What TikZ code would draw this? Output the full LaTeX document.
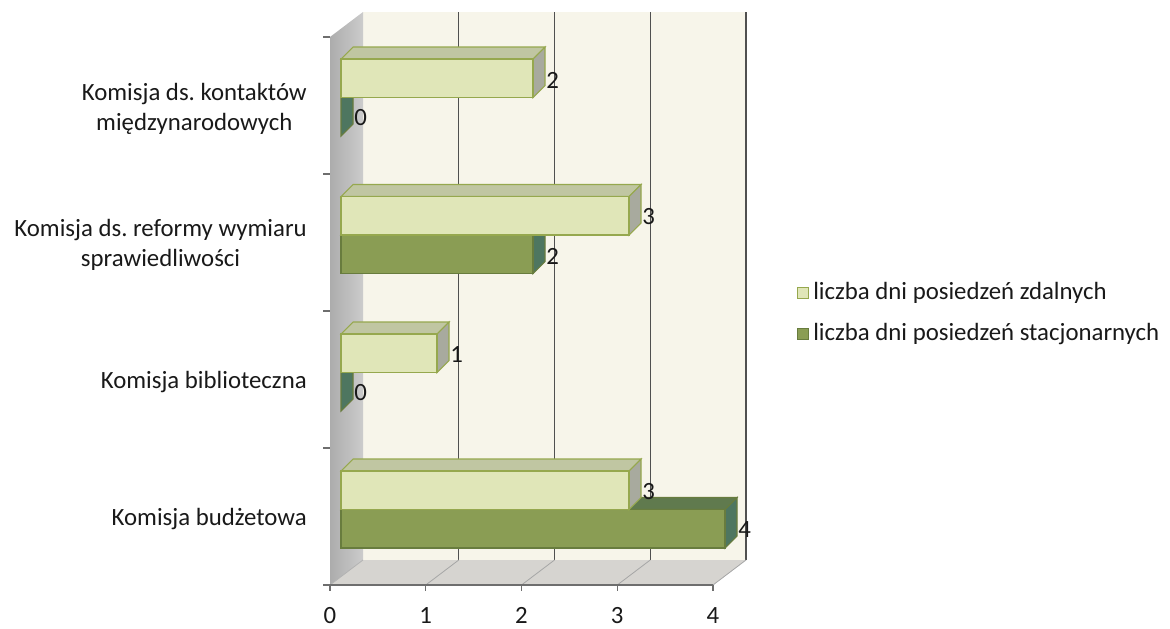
\documentclass[tikz,border=0pt]{standalone}
\usepackage{fontspec}
\setmainfont{Carlito}
\frenchspacing
\definecolor{lfront}{RGB}{224,230,184}
\definecolor{ltop}{RGB}{192,198,162}
\definecolor{lside}{RGB}{168,170,158}
\definecolor{ledge}{RGB}{150,168,78}
\definecolor{dfront}{RGB}{138,157,84}
\definecolor{dtop}{RGB}{96,122,78}
\definecolor{dside}{RGB}{78,118,96}
\definecolor{dedge}{RGB}{104,124,62}
\definecolor{backwall}{RGB}{247,245,234}
\definecolor{floorc}{RGB}{214,212,208}
\definecolor{wallA}{RGB}{172,172,172}
\definecolor{wallB}{RGB}{204,204,204}
\definecolor{gridc}{RGB}{80,80,80}
\definecolor{tickc}{RGB}{110,110,110}
\definecolor{txt}{RGB}{25,25,25}
\newcommand{\chartbox}[6]{%
  \pgfmathsetmacro{\xr}{341+96*#2}%
  \pgfmathsetmacro{\yt}{#1}%
  \ifdim #2pt>0pt
    \filldraw[fill=#4,draw=#6,line width=0.8] (341,\yt) -- (353,\yt-12) -- (\xr+12,\yt-12) -- (\xr,\yt) -- cycle;
  \fi
  \filldraw[fill=#5,draw=#6,line width=0.8] (\xr,\yt) -- (\xr+12,\yt-12) -- (\xr+12,\yt+26.5) -- (\xr,\yt+38.5) -- cycle;
  \ifdim #2pt>0pt
    \filldraw[fill=#3,draw=#6,line width=0.8] (341,\yt) rectangle (\xr,\yt+38.5);
  \fi
}
\begin{document}
\begin{tikzpicture}[x=0.75pt,y=-0.75pt,
  every node/.style={font=\fontsize{18.6}{22}\selectfont,text=txt,inner sep=0pt},
  catlabel/.style={anchor=east,align=center},
  vallabel/.style={anchor=west},
  xlabel/.style={anchor=base},
  legsq/.style={minimum size=8.5pt,line width=0.9}]
\useasboundingbox (0,0) rectangle (1170,628);
% walls
\fill[backwall] (363,12) rectangle (746,560);
\shade[left color=wallA,right color=wallB] (363,12) -- (363,560) -- (330,585) -- (330,37) -- cycle;
\fill[floorc] (363,560) -- (746,560) -- (713,585) -- (330,585) -- cycle;
\foreach \k in {1,2,3,4}{
  \draw[gridc,line width=1.1] (363+95.75*\k,12) -- (363+95.75*\k,560);
  \draw[gray!70,line width=0.6] (363+95.75*\k,560) -- (330+95.75*\k,585);
}
\draw[gray!60,line width=0.6] (363,560) -- (330,585);
\draw[tickc,line width=0.8] (330,585) -- (713,585);
\foreach \k in {0,1,2,3,4}{
  \draw[tickc,line width=0.8] (323,37+137*\k) -- (330,37+137*\k);
  \draw[tickc,line width=0.8] (330+95.75*\k,585) -- (330+95.75*\k,591);
}
% bars: dark first, then light
\chartbox{97.5}{0}{dfront}{dtop}{dside}{dedge}
\chartbox{59}{2}{lfront}{ltop}{lside}{ledge}
\chartbox{235}{2}{dfront}{dtop}{dside}{dedge}
\chartbox{196.5}{3}{lfront}{ltop}{lside}{ledge}
\chartbox{372.5}{0}{dfront}{dtop}{dside}{dedge}
\chartbox{334}{1}{lfront}{ltop}{lside}{ledge}
\chartbox{509.5}{4}{dfront}{dtop}{dside}{dedge}
\chartbox{471}{3}{lfront}{ltop}{lside}{ledge}
% value labels
\node[vallabel] (v1l) at (546,80) {2};
\node[vallabel] (v1d) at (354,118) {0};
\node[vallabel] (v2l) at (642,217) {3};
\node[vallabel] (v2d) at (546,256) {2};
\node[vallabel] (v3l) at (450,355) {1};
\node[vallabel] (v3d) at (354,393) {0};
\node[vallabel] (v4l) at (642,492) {3};
\node[vallabel] (v4d) at (738,530) {4};
% category labels
\node[catlabel] (c1) at (307,109) {Komisja ds. kontaktów\\międzynarodowych};
\node[catlabel] (c2) at (307,245) {Komisja ds. reformy wymiaru\\sprawiedliwości};
\node[catlabel] (c3) at (307,382) {Komisja biblioteczna};
\node[catlabel] (c4) at (307,519) {Komisja budżetowa};
% x labels
\foreach \k in {0,1,2,3,4}{
  \node[xlabel] (x\k) at (330+95.75*\k,623) {\k};
}
% legend
\node[legsq,fill=lfront,draw=ledge] (sq1) at (803,293) {};
\node[legsq,fill=dfront,draw=dedge] (sq2) at (803,334) {};
\node[anchor=west] (leg1) at (813,293) {liczba dni posiedzeń zdalnych};
\node[anchor=west] (leg2) at (813,334) {liczba dni posiedzeń stacjonarnych};
\end{tikzpicture}
\end{document}
